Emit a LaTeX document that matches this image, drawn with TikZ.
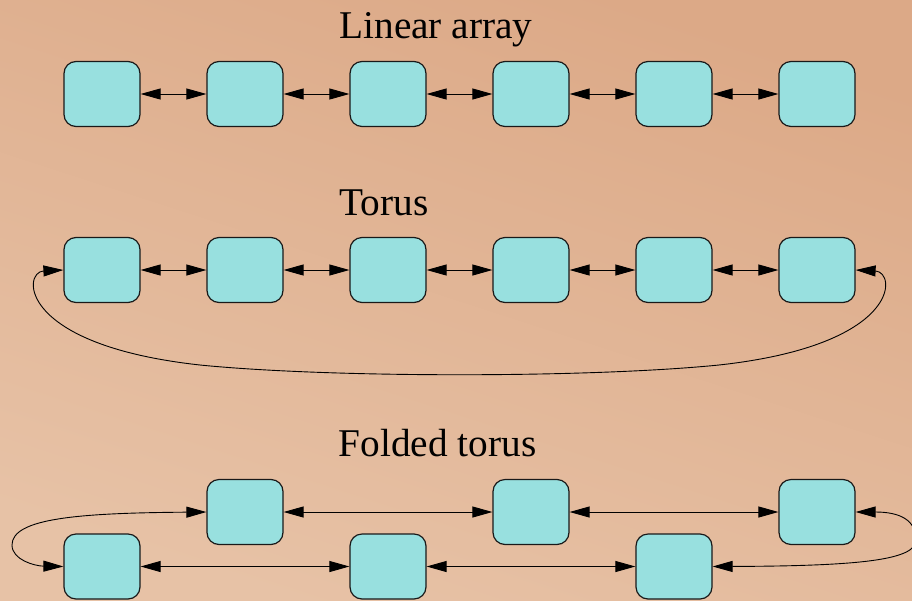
\documentclass[tikz,border=0pt]{standalone}
\usepackage{fontspec}
\setmainfont{Liberation Serif}
\usetikzlibrary{arrows.meta}
\definecolor{bgA}{RGB}{220,169,135}
\definecolor{bgB}{RGB}{231,194,166}
\definecolor{boxfill}{RGB}{152,224,223}
\tikzset{
  pe/.style={draw=black!90, fill=boxfill, line width=1.2pt, rounded corners=12pt,
    minimum width=76pt, minimum height=65pt, inner sep=0pt},
  lnk/.style={line width=0.9pt, {Triangle[length=20pt,width=11pt]}-{Triangle[length=20pt,width=11pt]}},
  ttl/.style={anchor=base, inner sep=0pt, font=\fontsize{39.3}{47}\selectfont}
}
\begin{document}
\begin{tikzpicture}[x=1pt,y=-1pt]
\useasboundingbox (0,0) rectangle (912,600);
\shade[top color=bgA, bottom color=bgB, shading angle=-18] (0,0) rectangle (912,600);
% titles
\node[ttl] (t1) at (436,38) {Linear array};
\node[ttl] (t2) at (384,215) {Torus};
\node[ttl] (t3) at (437.5,456) {Folded torus};
% linear array and torus
\foreach \i/\x in {1/102,2/245,3/388,4/531,5/674,6/817} {
  \node[pe] (a\i) at (\x,94) {};
  \node[pe] (b\i) at (\x,270) {};
}
\foreach \i/\j in {1/2,2/3,3/4,4/5,5/6} {
  \draw[lnk] (a\i.east) -- (a\j.west);
  \draw[lnk] (b\i.east) -- (b\j.west);
}
\draw[lnk] (b1.west) .. controls (22,272) and (18,345) .. (200,365)
  .. controls (330,378) and (589,378) .. (719,365)
  .. controls (901,345) and (897,272) .. (b6.east);
% folded torus
\node[pe] (f1) at (102,566.5) {};
\node[pe] (f2) at (245,512) {};
\node[pe] (f3) at (388,566.5) {};
\node[pe] (f4) at (531,512) {};
\node[pe] (f5) at (674,566.5) {};
\node[pe] (f6) at (817,512) {};
\draw[lnk] (f2.east) -- (f4.west);
\draw[lnk] (f4.east) -- (f6.west);
\draw[lnk] (f1.east) -- (f3.west);
\draw[lnk] (f3.east) -- (f5.west);
\draw[lnk] (f2.west) .. controls (80,513) and (12,518) .. (12,545)
  .. controls (12,560) and (35,566) .. (f1.west);
\draw[lnk] (f6.east) .. controls (900,512) and (916,520) .. (916,540)
  .. controls (916,560) and (860,566) .. (f5.east);
\end{tikzpicture}
\end{document}
